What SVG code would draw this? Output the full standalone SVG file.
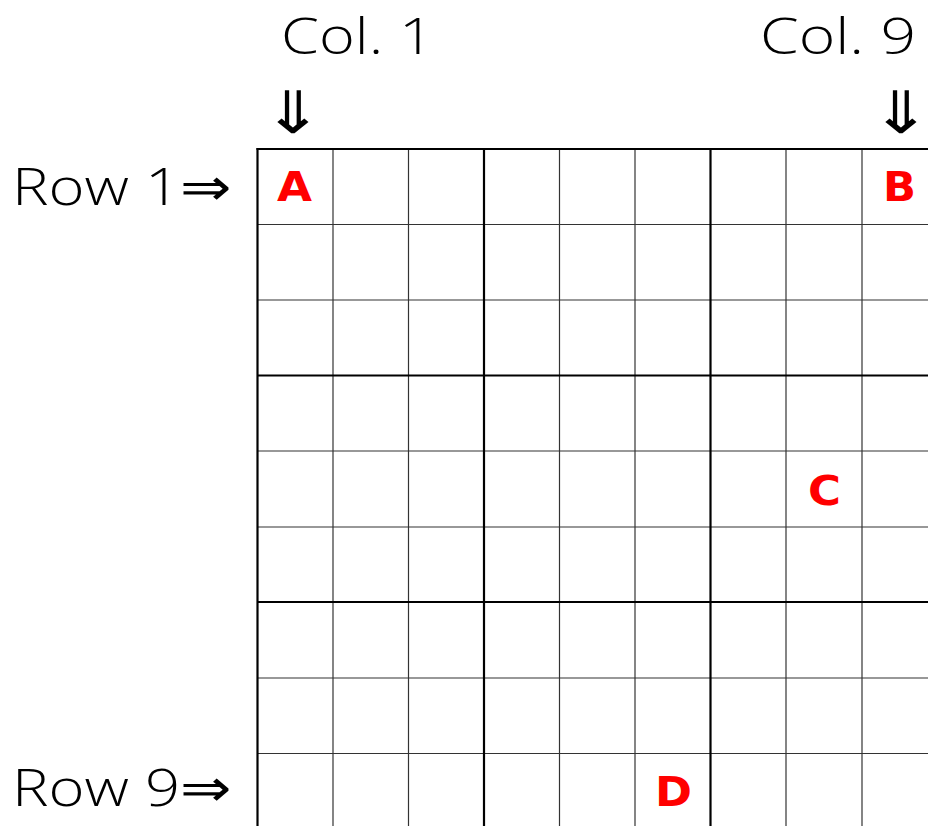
<svg xmlns="http://www.w3.org/2000/svg" width="928" height="826" viewBox="0 0 928 826">
<style>
.lbl{font-family:"Open Sans","Liberation Sans",sans-serif;font-weight:300;font-size:52px;fill:#000}
.col{font-size:50px}
.arr{font-family:"DejaVu Sans",sans-serif;font-size:56px;fill:#000;letter-spacing:-20px}
.mark{font-family:"DejaVu Sans",sans-serif;font-weight:bold;font-size:41px;fill:#ff0000}
.thin{stroke:#333;stroke-width:1.2}
.thick{stroke:#000;stroke-width:2.2}
</style>
<rect width="928" height="826" fill="#fff"/>
<g id="labels">
<text class="lbl col" x="281" y="54" textLength="153" lengthAdjust="spacingAndGlyphs">Col. 1</text>
<text class="lbl col" x="760" y="54" textLength="156" lengthAdjust="spacingAndGlyphs">Col. 9</text>
<text class="lbl" x="12" y="205" textLength="220" lengthAdjust="spacingAndGlyphs">Row 1⇒</text>
<text class="lbl" x="12" y="806" textLength="220" lengthAdjust="spacingAndGlyphs">Row 9⇒</text>
<text class="arr" x="-23.5" y="0" transform="translate(293,133) scale(1.3,1.05)">⇓</text>
<text class="arr" x="-23.5" y="0" transform="translate(901,133) scale(1.3,1.05)">⇓</text>
</g>
<g id="grid">
<g class="thin">
<line x1="333" y1="149" x2="333" y2="826"/>
<line x1="408.5" y1="149" x2="408.5" y2="826"/>
<line x1="559.5" y1="149" x2="559.5" y2="826"/>
<line x1="635" y1="149" x2="635" y2="826"/>
<line x1="786" y1="149" x2="786" y2="826"/>
<line x1="862" y1="149" x2="862" y2="826"/>
<line x1="257" y1="224.5" x2="928" y2="224.5"/>
<line x1="257" y1="300" x2="928" y2="300"/>
<line x1="257" y1="451" x2="928" y2="451"/>
<line x1="257" y1="527" x2="928" y2="527"/>
<line x1="257" y1="678" x2="928" y2="678"/>
<line x1="257" y1="753.5" x2="928" y2="753.5"/>
</g>
<g class="thick">
<line x1="257.5" y1="148" x2="257.5" y2="826"/>
<line x1="484" y1="149" x2="484" y2="826"/>
<line x1="710.5" y1="149" x2="710.5" y2="826"/>
<line x1="256.5" y1="149" x2="928" y2="149"/>
<line x1="257" y1="375.5" x2="928" y2="375.5"/>
<line x1="257" y1="602" x2="928" y2="602"/>
</g>
</g>
<g id="A"><text class="mark" x="277" y="201" textLength="35" lengthAdjust="spacingAndGlyphs">A</text></g>
<g id="B"><text class="mark" x="883" y="201" textLength="33" lengthAdjust="spacingAndGlyphs">B</text></g>
<g id="C"><text class="mark" x="808" y="505" textLength="33" lengthAdjust="spacingAndGlyphs">C</text></g>
<g id="D"><text class="mark" x="655" y="806" textLength="37" lengthAdjust="spacingAndGlyphs">D</text></g>
</svg>
